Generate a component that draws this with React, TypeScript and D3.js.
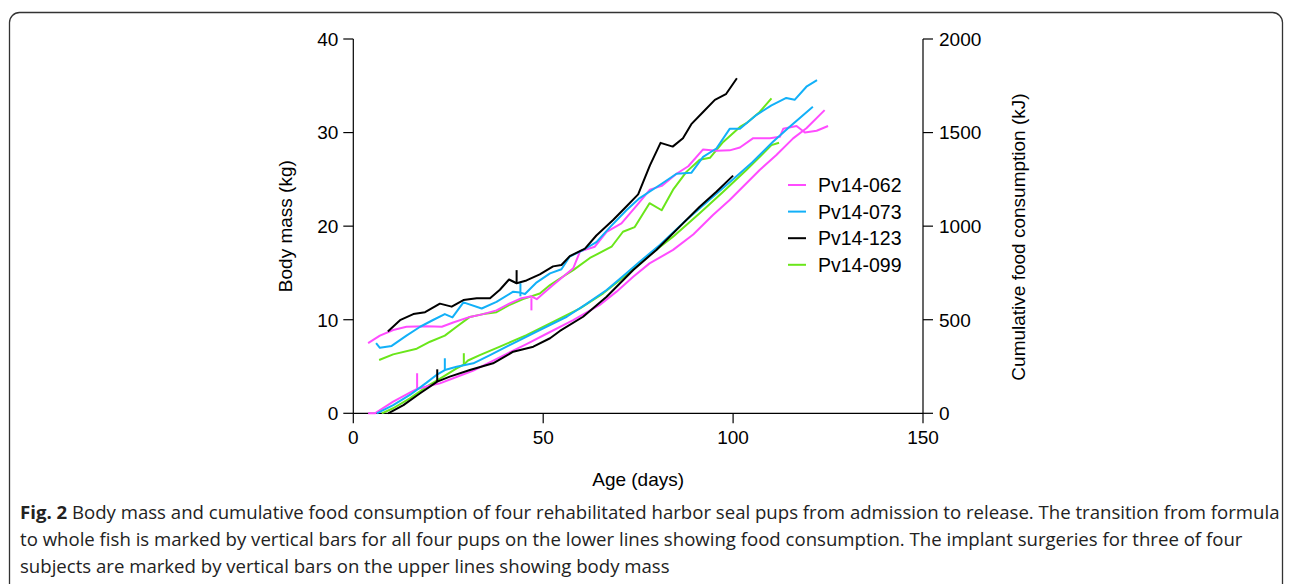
import React from "react";
import * as d3 from "d3";

// ---- data ----
const pupIds = ["Pv14-062", "Pv14-073", "Pv14-123", "Pv14-099"];
const pupColors = ["#ff4cff", "#12b0f8", "#000000", "#6ae61a"];

// body mass (kg) by age (days)
const mass062: [number, number][] = [[3.9,7.5],[7,8.3],[10.5,8.9],[14,9.25],[19.3,9.3],[23.3,9.25],[26.3,9.7],[30.7,10.3],[34.2,10.6],[37.7,11.0],[41.2,11.75],[44.3,12.3],[46.9,12.5],[48.3,12.2],[50,12.8],[52.6,13.7],[57.9,15.5],[59.7,17.3],[63.6,17.8],[66.7,19.4],[70.6,20.3],[74.6,22.2],[78.1,23.9],[81.2,24.3],[85.1,25.6],[88.2,26.4],[92.1,28.2],[95.6,28.05],[99.1,28.1],[101.8,28.4],[105.3,29.4],[109.7,29.4],[112.3,29.55],[113.2,30.4],[116.7,30.7],[118.9,30.0],[122,30.2],[125,30.7]];
const mass073: [number, number][] = [[6,7.5],[7,7.0],[10.1,7.2],[14,8.3],[17.6,9.25],[21,9.97],[24.1,10.6],[26.1,10.25],[29,11.85],[33.8,11.2],[37.7,11.9],[42.1,13.0],[43.9,12.9],[45.2,12.75],[48.3,14.0],[51.8,14.95],[54.8,15.4],[57,16.75],[60.5,17.45],[64,18.3],[67.6,19.9],[71.9,21.7],[75.4,23.0],[80.7,24.4],[85.1,25.6],[89,25.7],[92.1,27.4],[95.6,28.3],[99.1,30.4],[101.8,30.4],[106.2,31.9],[110.1,32.9],[114,33.7],[116.2,33.5],[119.3,34.9],[122.1,35.6]];
const mass123: [number, number][] = [[9.1,8.75],[12.3,9.95],[15.8,10.6],[18.9,10.8],[22.8,11.72],[25.9,11.4],[29,12.1],[32.5,12.3],[36,12.3],[38.6,13.2],[41,14.3],[43,13.9],[45.6,14.2],[49.1,14.85],[52.6,15.7],[54.8,15.85],[57,16.8],[61,17.6],[64,19.0],[68.4,20.65],[71.9,22.1],[75,23.4],[78.1,26.5],[80.9,28.9],[84.1,28.5],[86.8,29.4],[89,30.9],[92.1,32.2],[95.2,33.5],[98.1,34.1],[101,35.8]];
const mass099: [number, number][] = [[6.8,5.7],[10.5,6.3],[16.7,6.9],[20.2,7.65],[24.1,8.3],[27.2,9.25],[30.7,10.3],[34.2,10.6],[37.7,10.8],[41.2,11.6],[44.7,12.2],[49.1,12.8],[51.8,13.7],[54,14.3],[57.9,15.3],[62.3,16.6],[68,17.8],[71,19.4],[74.1,19.9],[78,22.45],[81.2,21.7],[84.2,23.9],[87.7,25.8],[91.2,27.1],[93.9,27.3],[97.4,29.0],[101.8,30.6],[103.5,31.0],[107,32.2],[110.1,33.65]];

// cumulative food consumption (kJ) by age (days)
const food062: [number, number][] = [[3.9,0],[5.7,0],[10.5,62],[14.9,110],[16.8,130],[19.5,145],[22.8,160],[26.3,187],[31.6,228],[40.4,318],[45.6,370],[50.9,425],[57.9,498],[64.9,579],[69.3,650],[73.7,730],[78,801],[84.2,873],[89.5,955],[94.7,1060],[99.1,1140],[107,1300],[111.4,1380],[115.8,1469],[119.3,1523],[124.1,1620]];
const food073: [number, number][] = [[6.2,0],[10.5,44],[14.9,98],[19.3,164],[21.9,205],[24.1,231],[27.2,249],[31.6,267],[36,311],[42.1,374],[49.1,445],[56.2,516],[61.4,585],[66.7,659],[71.9,748],[75.4,810],[80.7,899],[87.7,1033],[94.7,1157],[100,1250],[105,1340],[110.5,1451],[114.9,1531],[121,1638]];
const food123: [number, number][] = [[9.2,0],[13.2,44],[17.6,107],[22.1,169],[25.4,196],[30.7,231],[36.8,267],[42.1,329],[47.4,356],[51.8,401],[54.4,440],[60.5,516],[66.7,623],[73.7,766],[79.8,873],[86.8,1015],[91.2,1104],[95.6,1184],[100,1270]];
const food099: [number, number][] = [[7.5,0],[10.5,27],[14.9,80],[19.3,142],[23.7,196],[27.2,240],[29.1,260],[30.2,282],[33.3,311],[38.6,356],[45.6,418],[52.6,489],[59.7,561],[65.8,641],[71.9,739],[78,846],[84.2,944],[91.2,1069],[97.4,1184],[103.5,1300],[107.5,1380],[110.1,1433],[112.1,1446]];

// implant surgery bars on body mass lines: [day, kgFrom, kgTo]
const surgery062: [number, number, number] = [46.9, 12.3, 11.0];
const surgery073: [number, number, number] = [44.0, 13.9, 12.5];
const surgery123: [number, number, number] = [43.0, 13.9, 15.3];

// formula -> fish transition bars on food lines: [day, kJFrom, kJTo]
const transition062: [number, number, number] = [16.8, 134, 214];
const transition073: [number, number, number] = [24.1, 231, 294];
const transition123: [number, number, number] = [22.1, 169, 235];
const transition099: [number, number, number] = [29.1, 258, 321];

const xTicks = [0, 50, 100, 150];
const massTicks = [0, 10, 20, 30, 40];
const foodTicks = [0, 500, 1000, 1500, 2000];

const captionLines = [
  "Body mass and cumulative food consumption of four rehabilitated harbor seal pups from admission to release. The transition from formula",
  "to whole fish is marked by vertical bars for all four pups on the lower lines showing food consumption. The implant surgeries for three of four",
  "subjects are marked by vertical bars on the upper lines showing body mass",
];

export default function App() {
  const x = d3.scaleLinear().domain([0, 150]).range([353.3, 923]);
  const yL = d3.scaleLinear().domain([0, 40]).range([413.3, 39]);
  const yR = d3.scaleLinear().domain([0, 2000]).range([413.3, 39]);

  const massSeries = [mass062, mass073, mass123, mass099];
  const foodSeries = [food062, food073, food123, food099];
  const surgeries: ([number, number, number] | null)[] = [surgery062, surgery073, surgery123, null];
  const transitions = [transition062, transition073, transition123, transition099];

  const lineL = d3.line<[number, number]>().x((d) => x(d[0])).y((d) => yL(d[1]));
  const lineR = d3.line<[number, number]>().x((d) => x(d[0])).y((d) => yR(d[1]));

  const font = "'Liberation Sans', Arial, Helvetica, sans-serif";
  const x0 = x(0), x1 = x(150), yb = yL(0), yt = yL(40);
  const order = [3, 0, 1, 2];

  return (
    <svg width={1292} height={584} style={{ position: "absolute", left: 0, top: 0, display: "block" }} fontFamily={font}>
      <rect x={0} y={0} width={1292} height={584} fill="#fff" />
      <rect x={9.5} y={12.5} width={1273} height={620} rx={10} fill="none" stroke="#333" strokeWidth={1.3} />

      {/* axes */}
      <g stroke="#000" strokeWidth={1.2} fill="none">
        <line x1={x0} x2={x0} y1={yt} y2={yb} />
        <line x1={x1} x2={x1} y1={yt} y2={yb} />
        <line x1={x0} x2={x1} y1={yb} y2={yb} />
        {massTicks.map((t) => <line key={"lt" + t} x1={x0 - 10} x2={x0} y1={yL(t)} y2={yL(t)} />)}
        {foodTicks.map((t) => <line key={"rt" + t} x1={x1} x2={x1 + 10} y1={yR(t)} y2={yR(t)} />)}
        {xTicks.map((t) => <line key={"xt" + t} x1={x(t)} x2={x(t)} y1={yb} y2={yb + 10} />)}
      </g>
      <g fontSize={19} fill="#000">
        {massTicks.map((t) => (
          <text key={"ll" + t} x={x0 - 15} y={yL(t)} dy="0.36em" textAnchor="end">{t}</text>
        ))}
        {foodTicks.map((t) => (
          <text key={"rl" + t} x={x1 + 16} y={yR(t)} dy="0.36em" textAnchor="start">{t}</text>
        ))}
        {xTicks.map((t) => (
          <text key={"xl" + t} x={x(t)} y={yb + 31} textAnchor="middle">{t}</text>
        ))}
        <text x={(x0 + x1) / 2} y={486} textAnchor="middle">Age (days)</text>
        <text transform={`translate(292,${(yt + yb) / 2}) rotate(-90)`} textAnchor="middle">Body mass (kg)</text>
        <text transform={`translate(1025,237) rotate(-90)`} textAnchor="middle">Cumulative food consumption (kJ)</text>
      </g>

      {/* lines */}
      <g fill="none" strokeWidth={2} strokeLinejoin="round">
        {order.map((i) => (
          <g key={"s" + i} stroke={pupColors[i]}>
            <path d={lineR(foodSeries[i]) || ""} />
            <path d={lineL(massSeries[i]) || ""} />
            {surgeries[i] && (
              <line x1={x(surgeries[i]![0])} x2={x(surgeries[i]![0])} y1={yL(surgeries[i]![1])} y2={yL(surgeries[i]![2])} />
            )}
            <line x1={x(transitions[i][0])} x2={x(transitions[i][0])} y1={yR(transitions[i][1])} y2={yR(transitions[i][2])} />
          </g>
        ))}
      </g>

      {/* legend */}
      <g fontSize={19.5}>
        {pupIds.map((id, i) => (
          <g key={id} transform={`translate(0,${185 + i * 26.6})`}>
            <line x1={788} x2={806} y1={0} y2={0} stroke={pupColors[i]} strokeWidth={2} />
            <text x={818} y={0} dy="0.36em" fill="#000">{id}</text>
          </g>
        ))}
      </g>

      {/* caption */}
      <g fontFamily="'Open Sans', 'Noto Sans', sans-serif" fontSize={18.6} fill="#222">
        {captionLines.map((ln, i) => (
          <text key={i} x={20} y={519 + i * 27}>
            {i === 0 && <tspan fontWeight="bold">Fig. 2 </tspan>}
            {ln}
          </text>
        ))}
      </g>
    </svg>
  );
}
